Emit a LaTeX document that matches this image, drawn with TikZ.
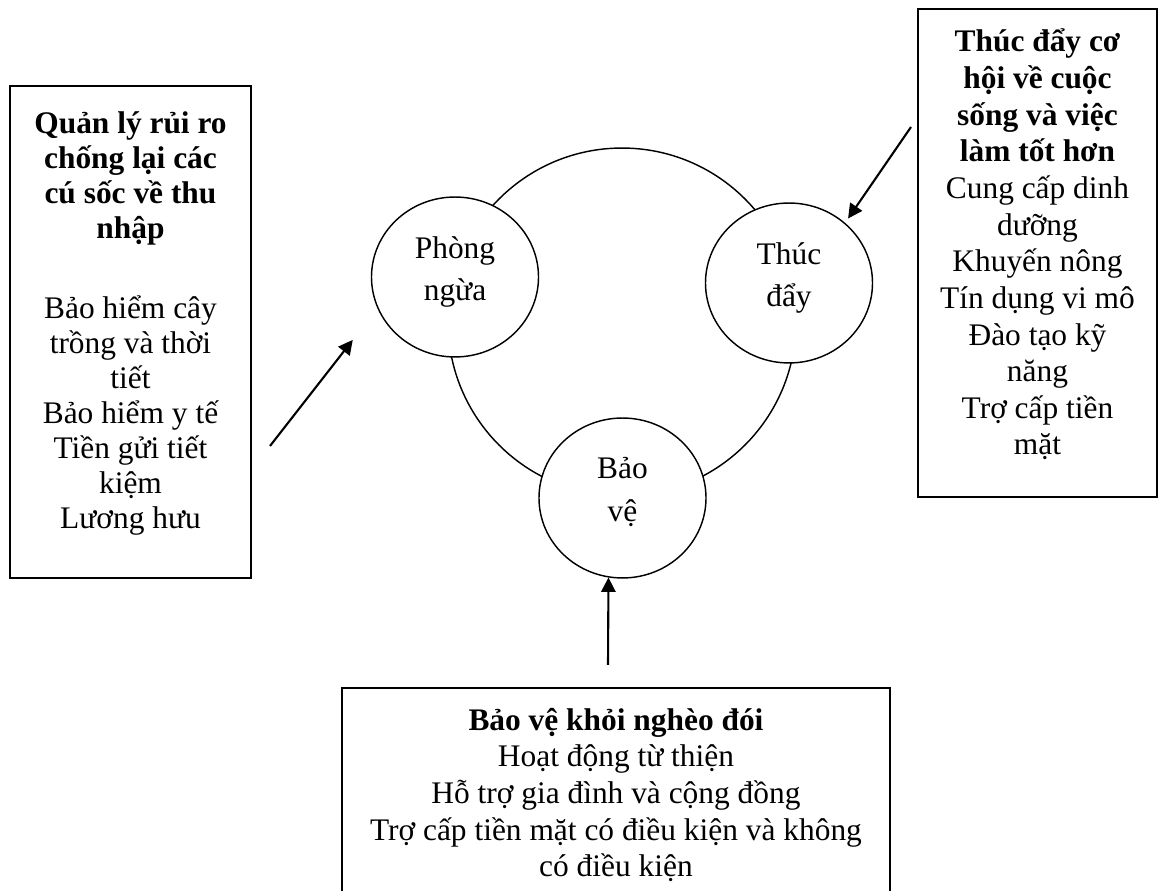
\documentclass[tikz,border=0pt]{standalone}
\usepackage{fontspec}
\setmainfont{Liberation Serif}
\usetikzlibrary{shapes.geometric,arrows.meta,positioning}
\tikzset{
  box/.style={shape=rectangle, draw=black, line width=0.75pt, inner sep=0},
  boxtext/.style={align=center, inner sep=0, font=\fontsize{12}{14}\selectfont},
  ball/.style={shape=ellipse, draw=black, fill=white, line width=0.55pt,
               minimum width=63.8pt, minimum height=61.1pt, inner sep=0,
               align=center, text depth=6.5pt, font=\fontsize{12}{16.2}\selectfont},
  arrow/.style={-{Triangle[length=5.5pt,width=5.5pt]}, line width=0.8pt}
}
\begin{document}
\begin{tikzpicture}[x=0.382pt, y=-0.382pt]
  \useasboundingbox (0,0) rectangle (1159,891);
  % the three text boxes
  \path (130.5,332) node [box, minimum width=92.1pt, minimum height=187.9pt] (riskbox) {}
        (1037.5,253) node [box, minimum width=91.3pt, minimum height=186.4pt] (promotebox) {}
        (616,796.5) node [box, minimum width=209.3pt, minimum height=82.9pt] (protectbox) {};
  \node [boxtext, font=\fontsize{12}{13.4}\selectfont, below=10pt of riskbox.north] (risktext)
        {\textbf{Quản lý rủi ro}\\\textbf{chống lại các}\\\textbf{cú sốc về thu}\\\textbf{nhập}\\[17pt]
         Bảo hiểm cây\\trồng và thời\\tiết\\Bảo hiểm y tế\\Tiền gửi tiết\\kiệm\\Lương hưu};
  \node [boxtext, below=7.8pt of promotebox.north] (promotetext)
        {\textbf{Thúc đẩy cơ}\\\textbf{hội về cuộc}\\\textbf{sống và việc}\\\textbf{làm tốt hơn}\\
         Cung cấp dinh\\dưỡng\\Khuyến nông\\Tín dụng vi mô\\Đào tạo kỹ\\năng\\Trợ cấp tiền\\mặt};
  \node [boxtext, below=7.8pt of protectbox.north] (protecttext)
        {\textbf{Bảo vệ khỏi nghèo đói}\\Hoạt động từ thiện\\Hỗ trợ gia đình và cộng đồng\\
         Trợ cấp tiền mặt có điều kiện và không\\có điều kiện};
  % the cycle
  \node [shape=circle, draw=black, line width=0.55pt, minimum size=132.9pt, inner sep=0] (cycle) at (622,322) {};
  \path (455,277) node [ball] (prevent) {Phòng\\ngừa}
        (789,283) node [ball] (promote) {Thúc\\đẩy}
        (622.5,498) node [ball] (protect) {Bảo\\vệ};
  % arrows
  \coordinate (risktail) at (270,446);
  \coordinate (promotetail) at (911,127);
  \coordinate (protecttail) at (608,665);
  \draw [arrow, shorten >=15.3pt] (risktail) -- (prevent.202);
  \draw [arrow, shorten >=2pt] (promotetail) -- (promote.47);
  \draw [arrow] (protecttail) -- (protect.260);
\end{tikzpicture}
\end{document}
